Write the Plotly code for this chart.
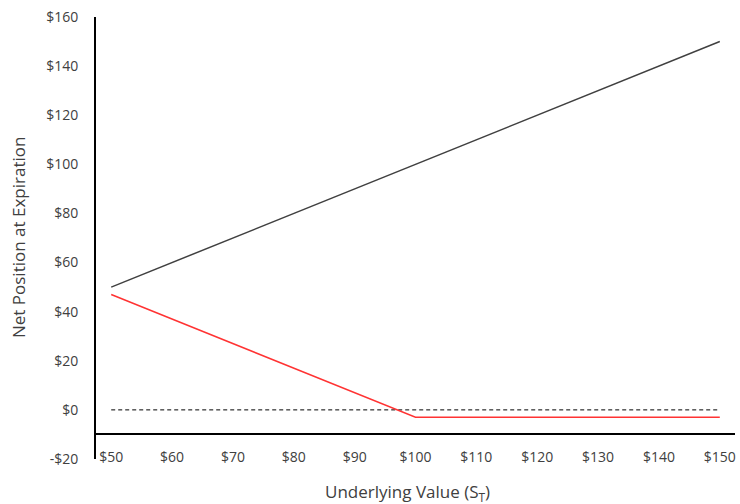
import plotly.graph_objects as go

# Underlying value at expiration
underlying = [50, 55, 60, 65, 70, 75, 80, 85, 90, 95, 100,
              105, 110, 115, 120, 125, 130, 135, 140, 145, 150]
# Long stock position
stock_position = [50, 55, 60, 65, 70, 75, 80, 85, 90, 95, 100,
                  105, 110, 115, 120, 125, 130, 135, 140, 145, 150]
# Long put position (net of premium)
put_position = [47, 42, 37, 32, 27, 22, 17, 12, 7, 2, -3,
                -3, -3, -3, -3, -3, -3, -3, -3, -3, -3]
# Break-even reference
zero_line = [0] * len(underlying)

x_ticks = [50, 60, 70, 80, 90, 100, 110, 120, 130, 140, 150]
x_tick_text = ["$50", "$60", "$70", "$80", "$90", "$100",
               "$110", "$120", "$130", "$140", "$150"]
y_ticks = [-20, 0, 20, 40, 60, 80, 100, 120, 140, 160]
y_tick_text = ["-$20", "$0", "$20", "$40", "$60", "$80",
               "$100", "$120", "$140", "$160"]

FONT = "Open Sans"
TEXT = "#404040"

fig = go.Figure()
fig.add_trace(go.Scatter(x=underlying, y=zero_line, mode="lines",
                         line=dict(color="#000000", width=1, dash="4px,3px"),
                         hoverinfo="skip"))
fig.add_trace(go.Scatter(x=underlying, y=stock_position, mode="lines",
                         line=dict(color="#404040", width=1.5)))
fig.add_trace(go.Scatter(x=underlying, y=put_position, mode="lines",
                         line=dict(color="#ff3333", width=1.5)))

fig.update_layout(
    width=740, height=504,
    margin=dict(l=96, r=5, t=17, b=45),
    paper_bgcolor="white", plot_bgcolor="white",
    showlegend=False,
    font=dict(family=FONT, size=14, color=TEXT),
    xaxis=dict(
        range=[47.5, 152.5], tickmode="array", tickvals=x_ticks, ticktext=x_tick_text,
        showgrid=False, zeroline=False, showline=True, linecolor="#000000", linewidth=2,
        anchor="free", position=10 / 180, ticks="", ticklabelstandoff=10,
        tickfont=dict(family=FONT, size=14, color=TEXT),
    ),
    yaxis=dict(
        range=[-20, 160], tickmode="array", tickvals=y_ticks, ticktext=y_tick_text,
        showgrid=False, zeroline=False, showline=True, linecolor="#000000", linewidth=2,
        ticks="", ticklabelstandoff=13,
        tickfont=dict(family=FONT, size=14, color=TEXT),
    ),
    annotations=[
        dict(text="Underlying Value (S<sub>T</sub>)", xref="paper", yref="paper",
             x=0.487, y=-0.075, xanchor="center", yanchor="middle", showarrow=False,
             font=dict(family=FONT, size=17, color=TEXT)),
        dict(text="Net Position at Expiration", xref="paper", yref="paper",
             x=-0.122, y=0.5, xanchor="center", yanchor="middle", showarrow=False,
             textangle=-90, font=dict(family=FONT, size=17, color=TEXT)),
    ],
)

fig.write_html("out.html")
